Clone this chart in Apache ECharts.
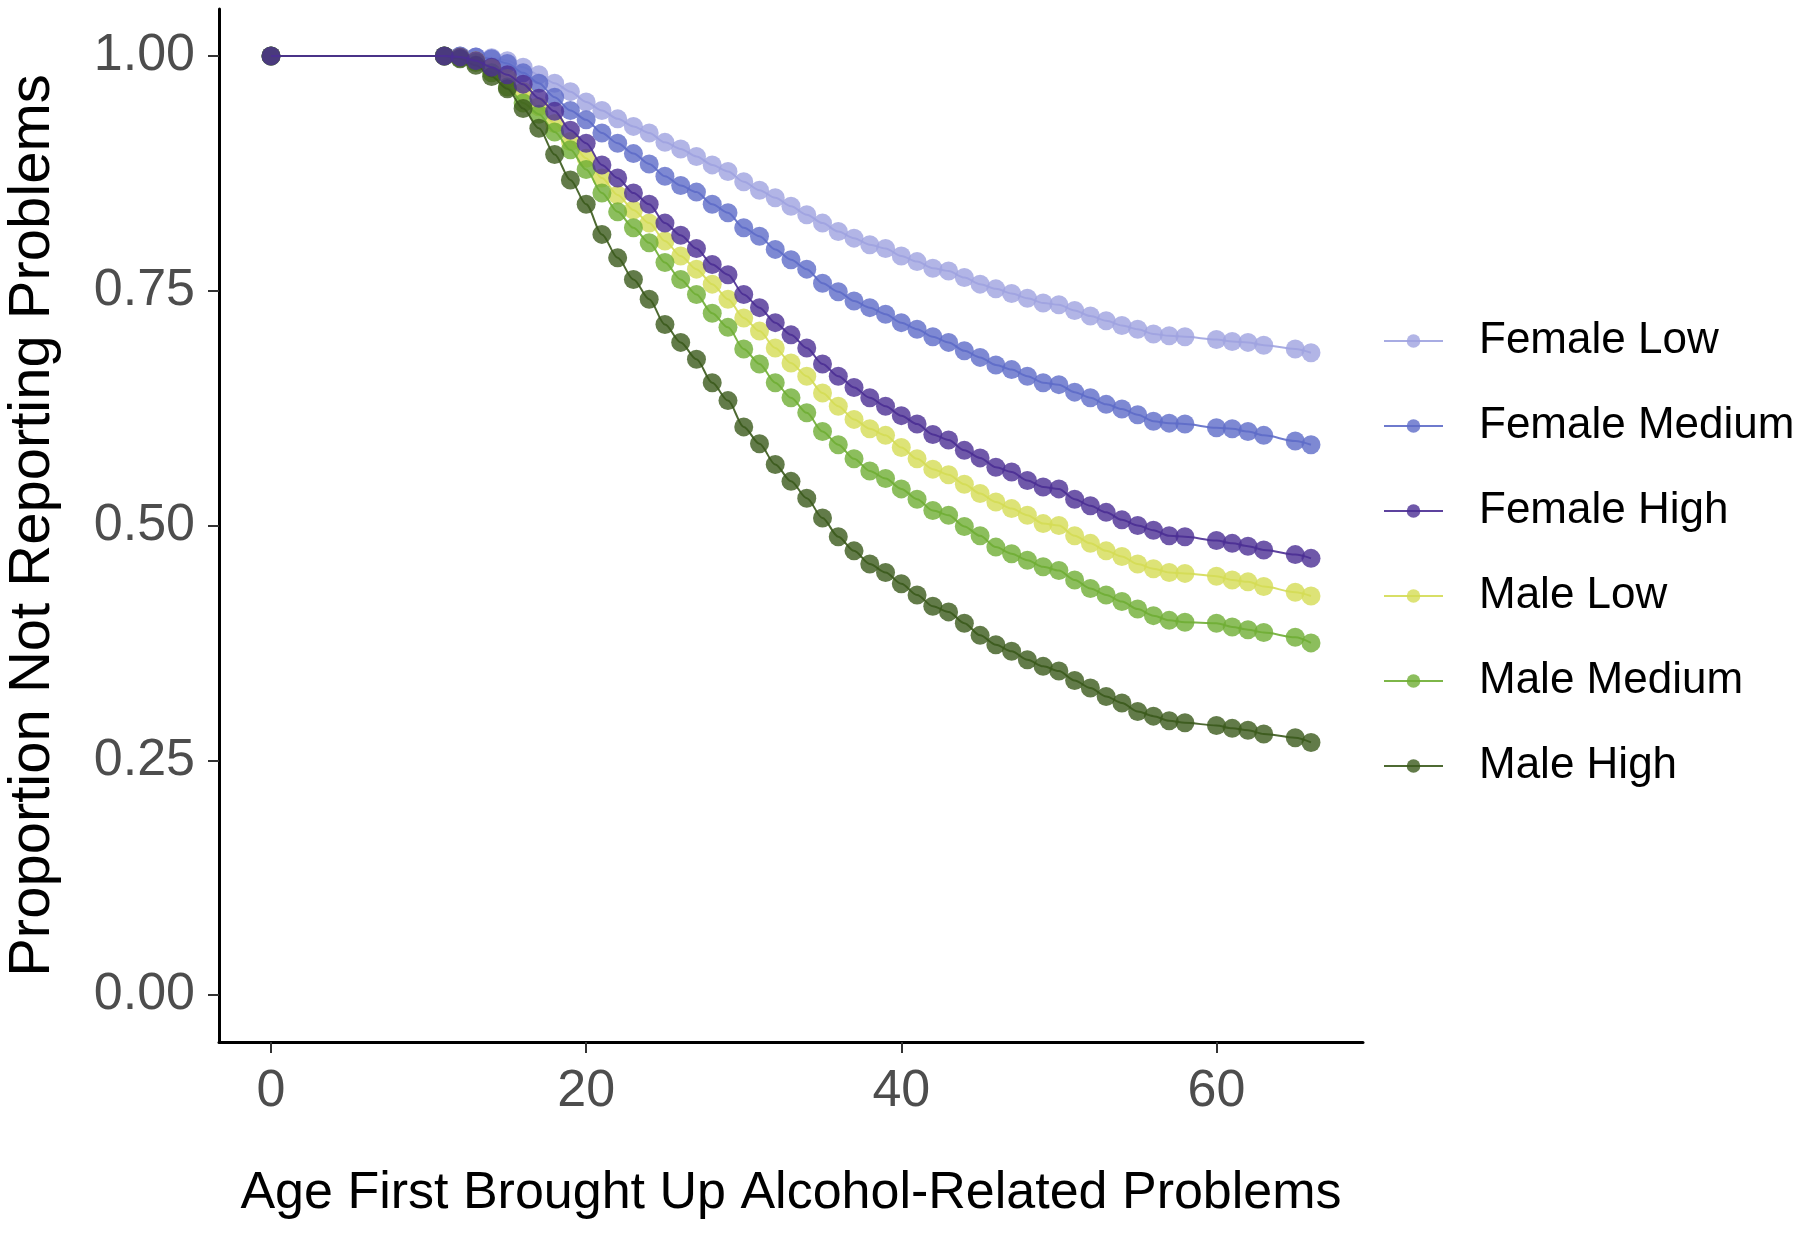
<!DOCTYPE html>
<html>
<head>
<meta charset="utf-8">
<script src="https://cdn.jsdelivr.net/npm/echarts@6/dist/echarts.min.js"></script>
<style>
html,body{margin:0;padding:0;background:#fff;}
#chart{width:1800px;height:1238px;}
</style>
</head>
<body>
<div id="chart"></div>
<script>
const ages = [0,11,12,13,14,15,16,17,18,19,20,21,22,23,24,25,26,27,28,29,30,31,32,33,34,35,36,37,38,39,40,41,42,43,44,45,46,47,48,49,50,51,52,53,54,55,56,57,58,60,61,62,63,65,66];

const femaleLow = [1.000,1.000,1.000,0.999,0.998,0.995,0.988,0.980,0.971,0.962,0.951,0.942,0.933,0.925,0.918,0.908,0.901,0.893,0.884,0.877,0.866,0.857,0.849,0.840,0.831,0.822,0.813,0.806,0.799,0.795,0.787,0.781,0.774,0.771,0.764,0.757,0.752,0.747,0.742,0.737,0.735,0.729,0.723,0.718,0.713,0.709,0.704,0.702,0.701,0.698,0.696,0.695,0.692,0.688,0.684];
const femaleMedium = [1.000,1.000,1.000,0.999,0.997,0.992,0.982,0.971,0.956,0.942,0.932,0.918,0.907,0.896,0.885,0.872,0.862,0.855,0.842,0.833,0.817,0.808,0.794,0.783,0.773,0.758,0.749,0.739,0.732,0.725,0.716,0.709,0.701,0.695,0.686,0.679,0.671,0.666,0.659,0.652,0.650,0.642,0.636,0.629,0.624,0.618,0.611,0.609,0.608,0.604,0.603,0.600,0.596,0.590,0.586];
const femaleHigh = [1.000,1.000,0.999,0.995,0.988,0.980,0.970,0.955,0.941,0.921,0.907,0.884,0.870,0.854,0.842,0.822,0.809,0.795,0.778,0.767,0.746,0.732,0.716,0.703,0.689,0.672,0.659,0.647,0.636,0.627,0.617,0.608,0.597,0.591,0.580,0.572,0.562,0.557,0.548,0.541,0.539,0.528,0.521,0.514,0.506,0.500,0.495,0.489,0.488,0.484,0.481,0.478,0.474,0.469,0.465];
const maleLow = [1.000,1.000,0.999,0.995,0.987,0.976,0.962,0.946,0.928,0.909,0.891,0.870,0.852,0.836,0.822,0.803,0.787,0.773,0.757,0.741,0.721,0.707,0.689,0.673,0.659,0.641,0.627,0.613,0.603,0.596,0.583,0.571,0.560,0.554,0.544,0.534,0.525,0.518,0.511,0.502,0.500,0.489,0.481,0.473,0.467,0.459,0.454,0.450,0.449,0.446,0.442,0.440,0.435,0.429,0.425];
const maleMedium = [1.000,1.000,0.998,0.993,0.982,0.967,0.950,0.938,0.919,0.900,0.879,0.854,0.834,0.817,0.801,0.780,0.762,0.746,0.726,0.711,0.688,0.672,0.652,0.636,0.620,0.600,0.586,0.571,0.558,0.550,0.539,0.528,0.516,0.511,0.499,0.489,0.477,0.470,0.463,0.456,0.452,0.442,0.433,0.426,0.419,0.411,0.404,0.399,0.397,0.396,0.392,0.389,0.386,0.381,0.375];
const maleHigh = [1.000,1.000,0.997,0.990,0.978,0.965,0.944,0.923,0.895,0.868,0.842,0.810,0.785,0.762,0.741,0.714,0.695,0.677,0.652,0.633,0.605,0.587,0.565,0.547,0.529,0.508,0.488,0.473,0.459,0.450,0.438,0.426,0.414,0.408,0.396,0.383,0.373,0.366,0.357,0.350,0.345,0.335,0.327,0.318,0.311,0.302,0.297,0.292,0.290,0.287,0.284,0.282,0.278,0.274,0.269];

const seriesNames = ['Female Low','Female Medium','Female High','Male Low','Male Medium','Male High'];
const seriesValues = [femaleLow, femaleMedium, femaleHigh, maleLow, maleMedium, maleHigh];
const seriesColors = ['#9fa3e0','#5e6cc8','#4b2e93','#d4dc55','#6fae34','#3b5a1c'];
const xTicks = [0,20,40,60];
const yTicks = [0,0.25,0.5,0.75,1];

const FONT = '"Liberation Sans", Arial, Helvetica, sans-serif';

const chart = echarts.init(document.getElementById('chart'), null, {renderer:'canvas'});

const series = seriesNames.map((name, i) => ({
  name: name,
  type: 'line',
  data: ages.map((a, j) => [a, seriesValues[i][j]]),
  smooth: 0.3,
  smoothMonotone: 'x',
  symbol: 'circle',
  symbolSize: 19,
  showSymbol: true,
  z: i === 2 ? 9 : 2 + i,
  lineStyle: { color: seriesColors[i], width: 2, opacity: 0.9 },
  itemStyle: { color: seriesColors[i], opacity: 0.8, borderWidth: 0 },
  emphasis: { disabled: true },
  animation: false
}));

chart.setOption({
  backgroundColor: '#ffffff',
  animation: false,
  grid: { left: 219, right: 437, top: 9, bottom: 196, containLabel: false, outerBoundsMode: 'none' },
  legend: {
    orient: 'vertical',
    left: 1383,
    top: 316,
    padding: 0,
    itemWidth: 59,
    itemHeight: 17,
    itemGap: 35,
    data: seriesNames,
    textStyle: { fontFamily: FONT, fontSize: 44, color: '#000', lineHeight: 50, padding: [0,0,0,31] },
    lineStyle: { width: 2 },
    itemStyle: { opacity: 0.8 },
    selectedMode: false
  },
  xAxis: {
    type: 'value',
    min: -3.3,
    max: 69.3,
    name: 'Age First Brought Up Alcohol-Related Problems',
    nameLocation: 'middle',
    nameGap: 126,
    nameTextStyle: { fontFamily: FONT, fontSize: 52, color: '#000' },
    axisLine: { show: true, onZero: false, lineStyle: { color: '#000', width: 3 } },
    axisTick: { show: true, length: 11, lineStyle: { color: '#333', width: 2 }, customValues: xTicks },
    axisLabel: { fontFamily: FONT, fontSize: 52, color: '#4d4d4d', margin: 24, customValues: xTicks },
    splitLine: { show: false }
  },
  yAxis: {
    type: 'value',
    min: -0.05,
    max: 1.05,
    name: 'Proportion Not Reporting Problems',
    nameLocation: 'middle',
    nameGap: 157,
    nameTextStyle: { fontFamily: FONT, fontSize: 58, color: '#000' },
    axisLine: { show: true, onZero: false, lineStyle: { color: '#000', width: 3 } },
    axisTick: { show: true, length: 11, lineStyle: { color: '#333', width: 2 }, customValues: yTicks },
    axisLabel: { fontFamily: FONT, fontSize: 52, color: '#4d4d4d', margin: 24, customValues: yTicks,
      formatter: v => v.toFixed(2) },
    splitLine: { show: false }
  },
  series: series
});
</script>
</body>
</html>
